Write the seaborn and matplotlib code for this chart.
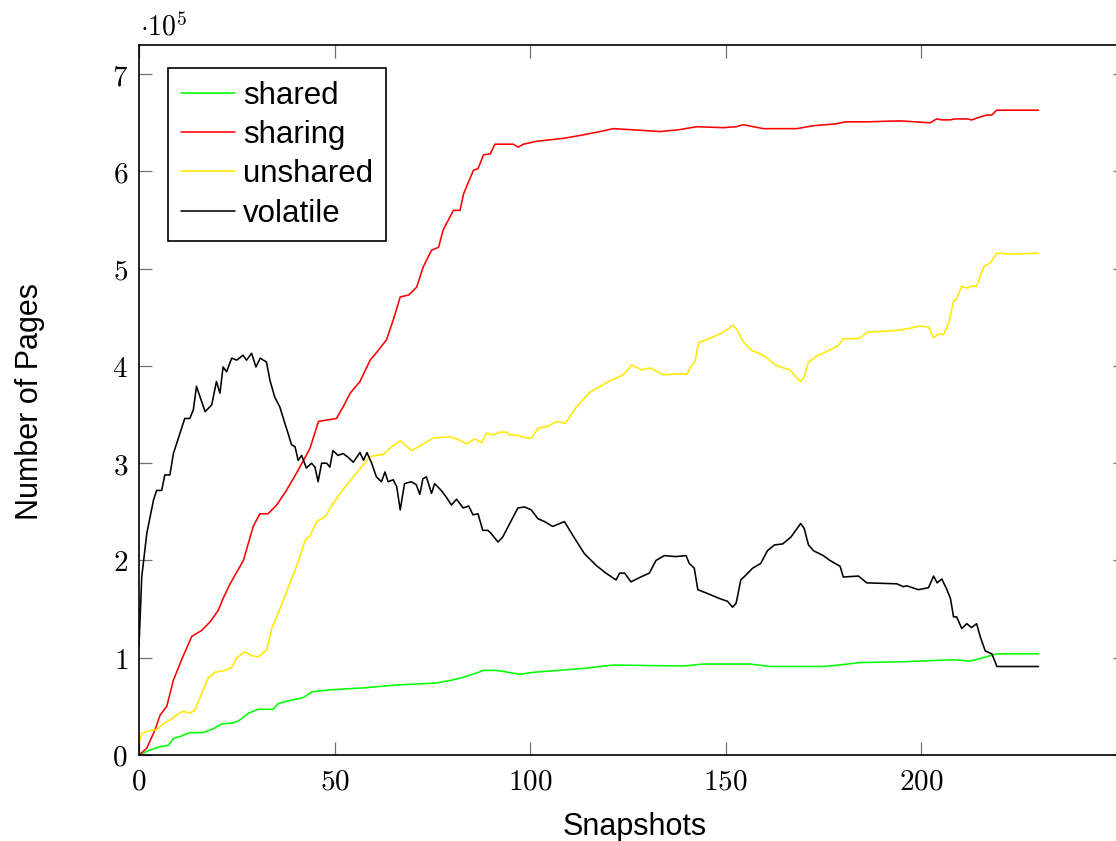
import matplotlib
matplotlib.use("Agg")
import matplotlib.pyplot as plt
import seaborn as sns
from matplotlib.ticker import FuncFormatter, FixedLocator

# ---- data (values in units of 1e5 pages) ----
shared_x = [0, 2.8, 5.4, 7.5, 8.8, 10.5, 13, 16.4, 19, 21.2, 24.2, 25.8, 28, 30.5, 34.3, 35.6,
            38.6, 42, 44.2, 48.8, 57.4, 65.9, 76.1, 80, 83, 86.8, 88.1, 91.5, 97.4, 100.8, 113.6,
            121.3, 139.2, 144.3, 156.3, 161.4, 168.6, 175, 180.1, 184.4, 196.3, 208.3, 212.5,
            215.9, 219.3, 230]
shared_y = [0, 0.05, 0.085, 0.10, 0.17, 0.19, 0.23, 0.23, 0.27, 0.32, 0.33, 0.36, 0.43, 0.47, 0.47,
            0.53, 0.56, 0.59, 0.65, 0.67, 0.69, 0.72, 0.74, 0.77, 0.80, 0.85, 0.87, 0.87, 0.83, 0.85,
            0.89, 0.925, 0.915, 0.935, 0.935, 0.91, 0.91, 0.91, 0.93, 0.95, 0.96, 0.98, 0.965,
            1.00, 1.04, 1.04]

sharing_x = [0, 2, 4.1, 5.4, 7.1, 8.8, 10.9, 13.5, 16, 18.2, 20.3, 21.5, 23.3, 26.7, 29.2, 30.9, 33,
             35.2, 37.7, 40.3, 43.7, 45.9, 50.5, 52.2, 54, 56.5, 59.1, 61.2, 63.3, 65, 66.8, 69, 71,
             72.7, 74.8, 76.6, 77.8, 80.4, 82.1, 83, 85.5, 86.7, 88.1, 89.8, 91, 95.7, 97, 98.3,
             101.7, 108.5, 112.8, 117.9, 121.3, 125.6, 133.2, 138.3, 142.6, 149.4, 152.8, 154.5,
             159.7, 168.2, 172.5, 178.4, 180.6, 186.1, 194.6, 202.3, 204, 205.3, 207.4, 208.7,
             211.7, 213, 215.1, 216.8, 218.1, 219.3, 230]
sharing_y = [0, 0.07, 0.26, 0.41, 0.50, 0.77, 0.98, 1.22, 1.28, 1.37, 1.49, 1.61, 1.76, 2.00, 2.35,
             2.48, 2.48, 2.57, 2.72, 2.90, 3.15, 3.43, 3.46, 3.58, 3.72, 3.84, 4.06, 4.16, 4.27, 4.47,
             4.71, 4.73, 4.81, 5.02, 5.19, 5.22, 5.40, 5.60, 5.60, 5.77, 6.01, 6.03, 6.17, 6.18, 6.28,
             6.28, 6.25, 6.28, 6.31, 6.34, 6.37, 6.41, 6.44, 6.43, 6.41, 6.43, 6.46, 6.45, 6.46, 6.48,
             6.44, 6.44, 6.47, 6.49, 6.51, 6.51, 6.52, 6.50, 6.54, 6.53, 6.53, 6.54, 6.54, 6.53, 6.56,
             6.58, 6.58, 6.63, 6.63]

unshared_x = [0, 0.7, 2.4, 4.5, 6.2, 7.9, 9.6, 11.3, 13, 14.3, 16, 17.7, 19.4, 22, 23.7, 25, 27.1,
              28.8, 30.5, 32.7, 33.9, 35.2, 36.9, 38.6, 40.3, 42.5, 43.7, 45.4, 47.6, 49.7, 51.4,
              54.4, 56.9, 59.1, 62.5, 64.6, 66.8, 69.8, 71.9, 73.2, 75.3, 79.6, 81.3, 83.8, 85.9,
              87.6, 88.9, 90.6, 92.3, 94, 94.8, 96.5, 99.1, 100.4, 102.1, 104.6, 106.8, 109, 111.9,
              115.3, 119.6, 123.9, 126, 128.6, 130.7, 134.1, 139.2, 140.1, 140.9, 142.2, 143.1,
              145.2, 148.6, 150.7, 151.8, 152.8, 154.5, 156.7, 159.7, 162.7, 164.8, 166.5, 167.3,
              168.6, 169.2, 170.1, 171.2, 173.3, 175.9, 178.8, 180.1, 184, 186.5, 192, 194.6, 196.3,
              199.7, 201.9, 203.2, 204.5, 205.7, 207, 208.3, 209.1, 210.4, 211.7, 212.9, 214.2, 216,
              217.7, 219.4, 223.6, 230]
unshared_y = [0.12, 0.22, 0.25, 0.26, 0.32, 0.36, 0.41, 0.45, 0.43, 0.46, 0.63, 0.79, 0.85, 0.87,
              0.90, 1.00, 1.06, 1.02, 1.01, 1.08, 1.30, 1.42, 1.59, 1.77, 1.94, 2.21, 2.25, 2.40, 2.45,
              2.59, 2.69, 2.84, 2.96, 3.07, 3.09, 3.17, 3.23, 3.13, 3.18, 3.21, 3.26, 3.27, 3.25, 3.20,
              3.25, 3.21, 3.31, 3.29, 3.32, 3.32, 3.29, 3.29, 3.26, 3.26, 3.36, 3.38, 3.43, 3.41, 3.58,
              3.73, 3.83, 3.91, 4.01, 3.96, 3.98, 3.91, 3.92, 3.91, 3.98, 4.05, 4.24, 4.27, 4.33, 4.38,
              4.42, 4.38, 4.25, 4.16, 4.11, 4.01, 3.98, 3.96, 3.92, 3.86, 3.84, 3.89, 4.04, 4.10, 4.15,
              4.21, 4.28, 4.28, 4.35, 4.36, 4.37, 4.38, 4.41, 4.40, 4.29, 4.33, 4.32, 4.43, 4.67, 4.69,
              4.82, 4.80, 4.82, 4.82, 5.02, 5.06, 5.16, 5.15, 5.16]

volatile_x = [0, 0.7, 2, 3.7, 4.5, 5.8, 6.6, 7.9, 8.8, 10.5, 11.7, 13, 13.9, 14.7, 16.9, 18.6, 19.8,
              20.7, 21.5, 22.4, 23.7, 25, 26.6, 27.5, 28.8, 29.9, 31, 32.6, 33.5, 34.7, 36, 37.3,
              38.1, 39, 39.9, 40.7, 41.6, 42.8, 44.1, 45, 45.8, 46.7, 48, 48.8, 49.6, 50.9, 52.2,
              53.5, 54.8, 56.5, 57.4, 58.3, 59.5, 60.7, 62, 62.9, 63.7, 65, 65.9, 66.8, 67.9, 69.6,
              70.9, 71.8, 72.6, 73.5, 74.8, 75.6, 77.3, 78.6, 79.9, 81.2, 82.9, 84.3, 85.4, 86.7,
              87.9, 89.2, 90, 91.8, 93, 94.8, 96.9, 98.6, 100.3, 102, 103.7, 105.8, 108.8, 110.9,
              113.9, 116.9, 119.4, 122, 122.9, 124.2, 125.8, 128.3, 130.5, 132.2, 134.3, 137.3,
              139.9, 140.7, 142, 142.9, 145.4, 148.4, 150.5, 151.8, 152.7, 153.9, 155.2, 156.9, 159,
              160.7, 162.5, 164.6, 166.7, 168.5, 169.2, 170.1, 171.2, 172.5, 175, 176.7, 179.3,
              180.1, 184, 186.1, 193.8, 195.5, 196.3, 199.3, 201.9, 203.2, 204.1, 205.3, 206.6,
              207.5, 208.3, 209.1, 210.4, 211.7, 212.9, 214.2, 215.1, 216.4, 218.1, 219.4, 230]
volatile_y = [1.12, 1.83, 2.28, 2.62, 2.72, 2.72, 2.88, 2.88, 3.10, 3.31, 3.46, 3.46, 3.55, 3.79,
              3.53, 3.60, 3.84, 3.72, 3.99, 3.94, 4.08, 4.06, 4.11, 4.06, 4.13, 3.99, 4.08, 4.04, 3.85,
              3.68, 3.58, 3.41, 3.31, 3.19, 3.17, 3.03, 3.08, 2.95, 3.00, 2.96, 2.81, 3.00, 3.00, 2.96,
              3.13, 3.08, 3.10, 3.06, 3.01, 3.11, 3.03, 3.11, 3.00, 2.86, 2.81, 2.91, 2.81, 2.83, 2.76,
              2.52, 2.79, 2.81, 2.78, 2.68, 2.84, 2.86, 2.69, 2.79, 2.72, 2.65, 2.57, 2.63, 2.54, 2.56,
              2.47, 2.48, 2.31, 2.31, 2.28, 2.19, 2.24, 2.38, 2.54, 2.55, 2.52, 2.43, 2.40, 2.35, 2.40,
              2.26, 2.07, 1.95, 1.87, 1.80, 1.87, 1.87, 1.78, 1.83, 1.87, 2.00, 2.05, 2.04, 2.05, 1.97,
              1.92, 1.70, 1.66, 1.61, 1.58, 1.52, 1.56, 1.80, 1.85, 1.92, 1.97, 2.10, 2.16, 2.17, 2.24,
              2.34, 2.38, 2.33, 2.16, 2.10, 2.05, 2.00, 1.94, 1.83, 1.84, 1.77, 1.76, 1.73, 1.74, 1.70,
              1.72, 1.84, 1.77, 1.81, 1.70, 1.61, 1.42, 1.42, 1.30, 1.35, 1.31, 1.35, 1.22, 1.07, 1.04,
              0.91, 0.91]

series_names = ["shared", "sharing", "unshared", "volatile"]
series_colors = ["#00ff00", "#ff0000", "#ffe800", "#000000"]
x_ticks = [0, 50, 100, 150, 200]
y_ticks = [0, 1, 2, 3, 4, 5, 6, 7]

# ---- style ----
sns.set_theme(style="white")
plt.rcParams["font.family"] = ["Liberation Sans", "DejaVu Sans"]
plt.rcParams["mathtext.fontset"] = "cm"

fig = plt.figure(figsize=(11.16, 8.41), dpi=100)
W, H = 1116, 841
ax = fig.add_axes([139 / W, 86 / H, (1126 - 139) / W, (755 - 45) / H])

data = [(shared_x, shared_y), (sharing_x, sharing_y), (unshared_x, unshared_y), (volatile_x, volatile_y)]
for (xs, ys), name, col in zip(data, series_names, series_colors):
    sns.lineplot(x=xs, y=ys, sort=False, estimator=None, color=col, lw=1.15, label=name, ax=ax)

ax.set_xlim(0, 252.4)
ax.set_ylim(0, 7.3)
ax.xaxis.set_major_locator(FixedLocator(x_ticks))
ax.yaxis.set_major_locator(FixedLocator(y_ticks))
fmt = FuncFormatter(lambda v, p: r"$%g$" % v)
ax.xaxis.set_major_formatter(fmt)
ax.yaxis.set_major_formatter(fmt)
ax.tick_params(axis="both", which="major", direction="in", length=9.5, width=0.9,
               color="#707070", labelsize=21, labelcolor="black",
               top=True, right=True, bottom=True, left=True)
ax.tick_params(axis="x", pad=9)
ax.tick_params(axis="y", pad=8)
for s in ax.spines.values():
    s.set_color("black")
    s.set_linewidth(1.2)
    s.set_visible(True)

ax.set_xlabel("Snapshots", fontsize=22, color="black")
ax.set_ylabel("Number of Pages", fontsize=22, color="black")
ax.xaxis.label.set_va("center")
ax.yaxis.label.set_va("center")
ax.xaxis.set_label_coords((635 - 139) / (1126 - 139), (755 - 827) / 710)
ax.yaxis.set_label_coords((30 - 139) / (1126 - 139), (755 - 401) / 710)

leg = ax.legend(loc="upper left", bbox_to_anchor=((168 - 139) / (1126 - 139), (755 - 68) / 710),
                borderaxespad=0, fontsize=22.5, frameon=True, fancybox=False, shadow=False,
                handlelength=1.75, handletextpad=0.25, labelspacing=0.3, borderpad=0.4,
                edgecolor="black", framealpha=1)
leg.get_frame().set_linewidth(1.2)
for t in leg.get_texts():
    t.set_color("black")

fig.text(140 / W, 1 - 36 / H, r"$\cdot 10^5$", fontsize=20, ha="left", va="baseline", color="black")

fig.savefig("out.png", dpi=100, facecolor="white")
